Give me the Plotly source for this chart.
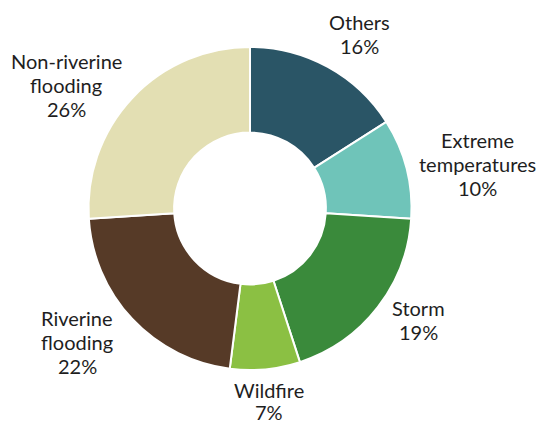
import plotly.graph_objects as go

# Data
categories = ["Others", "Extreme temperatures", "Storm", "Wildfire",
              "Riverine flooding", "Non-riverine flooding"]
label_lines = [["Others"], ["Extreme", "temperatures"], ["Storm"], ["Wildfire"],
               ["Riverine", "flooding"], ["Non-riverine", "flooding"]]
shares = [16, 10, 19, 7, 22, 26]

# Styles / layout (page body has an 8px margin, so figure is 8px smaller)
colors = ["#2a5566", "#6fc4b9", "#3a8a3b", "#8bc043", "#563a27", "#e3dfb3"]
OFF = 8
W, H = 545 - OFF, 424 - OFF
# label first-line centres in reference pixels (layout only)
label_px = [(359, 22), (477, 140), (418, 308), (269, 390), (77, 318), (66, 61)]
LINE = [24, 24, 24, 22, 24, 24]
FONT = dict(family="Lato, Open Sans, sans-serif", size=20, color="#1e1e1e")


def fx(px):
    return (px - OFF) / W


def fy(py):
    return 1 - (py - OFF) / H


fig = go.Figure()
fig.add_trace(go.Pie(
    labels=categories,
    values=shares,
    sort=False,
    direction="clockwise",
    rotation=0,
    hole=0.47,
    textinfo="none",
    hoverinfo="label+percent",
    marker=dict(colors=colors, line=dict(color="white", width=2)),
    domain=dict(x=[fx(88), fx(412)], y=[fy(370), fy(47)]),
    showlegend=False,
))

annotations = []
for lines, val, (px, py), step in zip(label_lines, shares, label_px, LINE):
    for i, t in enumerate(lines + [f"{val}%"]):
        annotations.append(dict(
            text=t,
            x=fx(px), y=fy(py + i * step), xref="paper", yref="paper",
            xanchor="center", yanchor="middle", showarrow=False,
            font=FONT,
        ))

fig.update_layout(
    width=W, height=H,
    margin=dict(l=0, r=0, t=0, b=0),
    paper_bgcolor="white", plot_bgcolor="white",
    annotations=annotations,
)

fig.write_html("out.html")
